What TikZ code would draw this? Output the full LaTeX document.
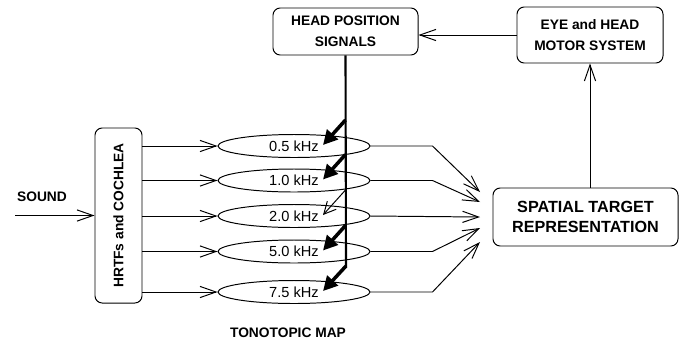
\documentclass[tikz,border=0pt]{standalone}
\usepackage{fontspec}
\setmainfont{Liberation Sans}
\usetikzlibrary{arrows.meta, positioning, shapes.geometric, calc}

\begin{document}
\begin{tikzpicture}[
  x=0.25mm, y=-0.25mm, line width=0.7pt,
  box/.style={draw, rounded corners=1.8mm, align=center, font=\fontsize{9.8}{14.8}\selectfont\bfseries, inner sep=1pt},
  band/.style={draw, ellipse, minimum width=38mm, minimum height=5.75mm, inner sep=0pt, font=\fontsize{10.4}{12}\selectfont},
  lbl/.style={font=\fontsize{9.8}{12}\selectfont\bfseries},
  arr/.style={-{Straight Barb[length=4mm, width=2.8mm]}},
  gain/.style={line width=2.5pt, -{Triangle[length=3.6mm, width=3.6mm]}},
  weak/.style={-{Straight Barb[length=3mm, width=3mm]}},
  spine/.style={line width=1.5pt}
]
\useasboundingbox (0,0) rectangle (686,341);

\node[box, minimum width=36.25mm, minimum height=11.75mm] (head) at (345.5,31.5) {HEAD POSITION\\SIGNALS};
\node[box, minimum width=36.5mm, minimum height=14mm] (eye) at (590,35) {EYE and HEAD\\MOTOR SYSTEM};
\node[box, minimum width=46.25mm, minimum height=14.5mm, font=\fontsize{11.5}{14.2}\selectfont\bfseries] (target) at (585.5,217) {SPATIAL TARGET\\REPRESENTATION};
\node[box, minimum width=11.75mm, minimum height=43.75mm] (cochlea) at (118.5,215.5) {\rotatebox{90}{HRTFs and COCHLEA}};

\node[band] (f1) at (294,146) {0.5 kHz};
\node[band] (f2) at (294,180.5) {1.0 kHz};
\node[band] (f3) at (294,216) {2.0 kHz};
\node[band] (f4) at (294,251.5) {5.0 kHz};
\node[band] (f5) at (294,292) {7.5 kHz};

\node[lbl] (sound) at (42,197) {SOUND};
\node[lbl] (map) at (288,333) {TONOTOPIC MAP};

\coordinate (src) at (15,215.5);
\coordinate (s0) at (346,267);
\coordinate (r1) at (480,192);
\coordinate (r2) at (480,202);
\coordinate (r3) at (480,217);
\coordinate (r4) at (480,228);
\coordinate (r5) at (480,242);

% input side
\draw[arr] (src) -- (cochlea.west);
\draw[arr] (cochlea.east |- f1) -- (f1.west);
\draw[arr] (cochlea.east |- f2) -- (f2.west);
\draw[arr] (cochlea.east |- f3) -- (f3.west);
\draw[arr] (cochlea.east |- f4) -- (f4.west);
\draw[arr] (cochlea.east |- f5) -- (f5.west);

% head position gain field
\draw[spine] (head.south) -- (s0);
\draw[gain] ($(head.south |- f1)+(0,-26)$) -- ($(f1.center)+(29,-1)$);
\draw[gain] ($(head.south |- f2)+(0,-26)$) -- ($(f2.center)+(29,-1)$);
\draw[weak] ($(head.south |- f3)+(0,-26)$) -- ($(f3.center)+(29,-1)$);
\draw[gain] ($(head.south |- f4)+(0,-26)$) -- ($(f4.center)+(29,-1)$);
\draw[gain] ($(s0)+(0,-1)$) -- ($(f5.center)+(29,-1)$);

% output side
\draw[arr] (f1.east) -- ++(62,0) -- (r1);
\draw[arr] (f2.east) -- ++(62,0) -- (r2);
\draw[arr] (f3.east) -- (r3);
\draw[arr] (f4.east) -- ++(62,0) -- (r4);
\draw[arr] (f5.east) -- ++(62,0) -- (r5);

\draw[arr] (eye.south |- target.north) -- (eye.south);
\draw[arr] (eye.west) -- (eye.west -| head.east);
\end{tikzpicture}
\end{document}
